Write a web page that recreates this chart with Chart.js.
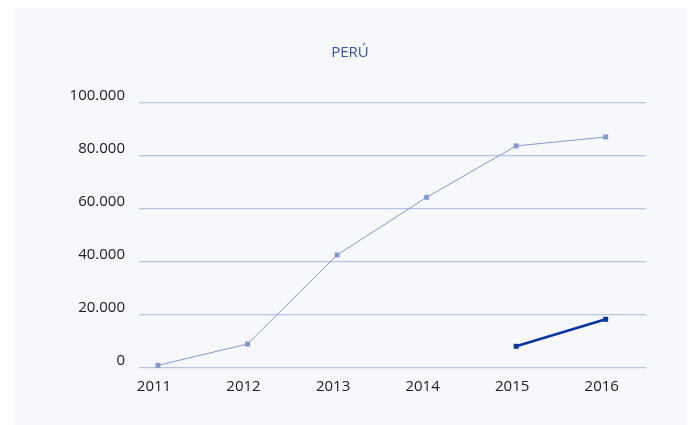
<!DOCTYPE html>
<html>
<head>
<meta charset="utf-8">
<script src="https://cdn.jsdelivr.net/npm/chart.js@4"></script>
<style>
  html, body { margin: 0; padding: 0; background: #ffffff; }
  #panel { position: absolute; left: 14px; top: 8px; width: 672px; height: 417px; background: #f7f8fc; }
  canvas { display: block; }
</style>
</head>
<body>
<div id="panel"><canvas id="chart" width="672" height="417"></canvas></div>
<script>
  // datos
  const years = ['2011', '2012', '2013', '2014', '2015', '2016'];
  const serieClara = [1000, 9060, 42640, 64400, 83800, 87170];
  const serieOscura = [null, null, null, null, 8190, 18380];
  const yTicks = [0, 20000, 40000, 60000, 80000, 100000];

  const fmt = v => String(v).replace(/\B(?=(\d{3})+(?!\d))/g, '.');
  const toPoints = arr => arr.map((v, i) => ({ x: i, y: v }));

  const font = { family: '"Open Sans", "Noto Sans", sans-serif', size: 15, weight: 'normal' };

  new Chart(document.getElementById('chart'), {
    type: 'line',
    data: {
      datasets: [
        {
          label: 'serie 1',
          data: toPoints(serieClara),
          borderColor: '#7f9ad4',
          backgroundColor: '#7f9ad4',
          borderWidth: 1,
          pointStyle: 'rect',
          pointRadius: 3.5,
          pointBorderWidth: 0
        },
        {
          label: 'serie 2',
          data: toPoints(serieOscura),
          borderColor: '#0536a2',
          backgroundColor: '#0536a2',
          borderWidth: 2.5,
          pointStyle: 'rect',
          pointRadius: 3.5,
          pointBorderWidth: 0,
          spanGaps: false
        }
      ]
    },
    options: {
      responsive: false,
      animation: false,
      // padding simétrico para que el título quede centrado en el panel
      layout: { padding: { left: 40, right: 40, top: 0, bottom: 0 } },
      plugins: {
        legend: { display: false },
        tooltip: { enabled: false },
        title: {
          display: true,
          text: 'PERÚ',
          color: '#2d54b6',
          font: font,
          padding: { top: 36, bottom: 41 }
        }
      },
      scales: {
        x: {
          type: 'linear',
          min: -0.212,
          max: 5.45,
          grid: { display: false },
          border: { display: false },
          afterBuildTicks: s => { s.ticks = years.map((y, i) => ({ value: i })); },
          afterFit: s => { s.height = 57; },
          ticks: {
            color: '#1a1a1a',
            font: font,
            padding: 2,
            labelOffset: -4,
            maxRotation: 0,
            callback: v => years[v]
          }
        },
        y: {
          min: 0,
          max: 100000,
          grid: { color: '#b3c4e6', lineWidth: 1.3, drawTicks: false },
          border: { display: false },
          afterBuildTicks: s => { s.ticks = yTicks.map(v => ({ value: v })); },
          afterFit: s => { s.width = 85; },
          ticks: {
            color: '#1a1a1a',
            font: font,
            padding: 14,
            labelOffset: -7,
            callback: v => fmt(v)
          }
        }
      }
    }
  });
</script>
</body>
</html>
